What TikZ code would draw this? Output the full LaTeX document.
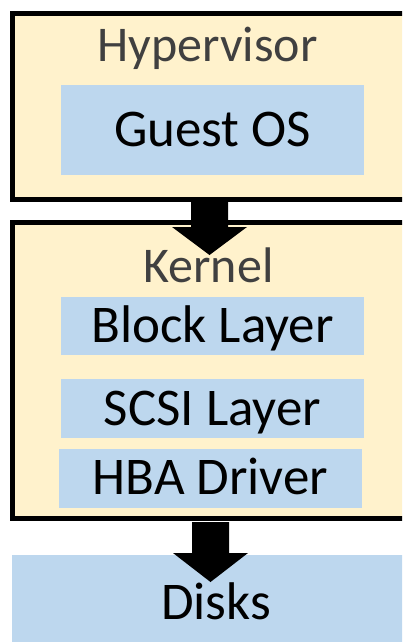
\documentclass[tikz,border=0pt]{standalone}
\usepackage{fontspec}
\setmainfont{Carlito}
\usetikzlibrary{calc}
\definecolor{cream}{HTML}{FFF2CC}
\definecolor{paleblue}{HTML}{BDD7EE}
\definecolor{labelgray}{HTML}{404040}
\tikzset{
  outerbox/.style={draw=black, line width=5pt, fill=cream, rectangle, inner sep=0pt, outer sep=0pt},
  layerbox/.style={fill=paleblue, rectangle, inner sep=0pt, outer sep=0pt, text height=33pt, text depth=0pt,
    font=\fontsize{53}{60}\selectfont, text=black},
  boxlabel/.style={anchor=base, inner sep=0pt, font=\fontsize{50}{58}\selectfont, text=labelgray},
  bigarrow/.style={fill=black}
}
\begin{document}
\begin{tikzpicture}[x=1pt,y=1pt]
\useasboundingbox (0,0) rectangle (402,-642);
\clip (0,0) rectangle (402,-642);
% outer containers
\node[outerbox, minimum width=407.5pt, minimum height=186pt] (hyp) at (216.25,-106.5) {};
\node[outerbox, minimum width=407.5pt, minimum height=296pt] (kern) at (216.25,-370.5) {};
% container labels
\node[boxlabel] (hyplabel) at (207.5,-62) {Hypervisor};
\node[boxlabel] (kernlabel) at (208.5,-282) {Kernel};
% layers
\node[layerbox, minimum width=303pt, minimum height=90pt] (guest) at (212.5,-129.5) {Guest OS};
\node[layerbox, minimum width=303pt, minimum height=58pt] (block) at (212.5,-326) {Block Layer};
\node[layerbox, minimum width=303pt, minimum height=59pt] (scsi) at (212.5,-408.5) {SCSI Layer};
\node[layerbox, minimum width=303pt, minimum height=59pt] (hba) at (210.5,-478) {HBA Driver};
\node[layerbox, minimum width=408pt, minimum height=95pt] (disks) at (216,-602.5) {Disks};
% arrows
\coordinate (a1s) at (209.5,-197);
\coordinate (a1e) at (209.5,-255);
\coordinate (a2s) at (210.5,-522);
\coordinate (a2e) at (210.5,-582);
\fill[bigarrow] (a1s) ++(-18.5,0) -- ++(0,-30) -- ++(-19,0) -- (a1e) -- ++(37.5,28) -- ++(-19,0) -- ++(0,30) -- cycle;
\fill[bigarrow] (a2s) ++(-18.5,0) -- ++(0,-31) -- ++(-19,0) -- (a2e) -- ++(37.5,29) -- ++(-19,0) -- ++(0,31) -- cycle;
\end{tikzpicture}
\end{document}
